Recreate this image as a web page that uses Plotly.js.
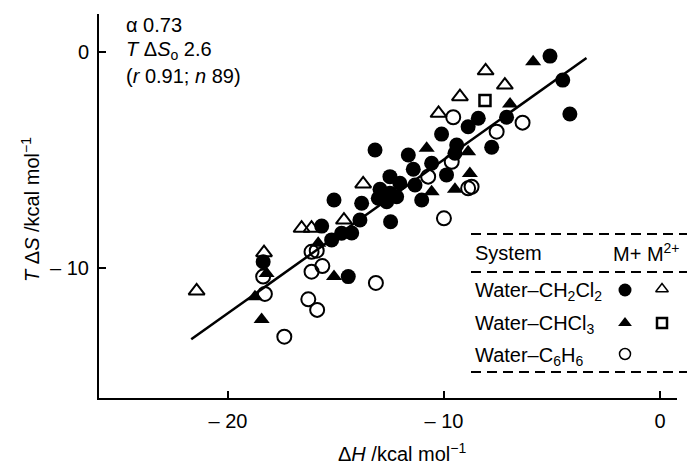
<!DOCTYPE html>
<html>
<head>
<meta charset="utf-8">
<script src="https://cdn.plot.ly/plotly-3.0.1.min.js"></script>
<style>html,body{margin:0;padding:0;background:#fff;}#chart{width:687px;height:465px;}</style>
</head>
<body>
<div id="chart"></div>
<script>
// Water–CH2Cl2, M+ (filled circles)
const ch2cl2MpX = [-5.09,-4.50,-4.17,-13.19,-10.11,-8.88,-8.41,-7.10,-7.79,-11.65,-9.41,-9.49,-10.57,-11.42,-9.88,-12.50,-12.04,-11.34,-12.96,-12.50,-12.19,-13.04,-11.03,-13.81,-12.65,-13.89,-12.47,-15.09,-15.66,-15.20,-14.74,-14.27,-18.37,-14.43];
const ch2cl2MpY = [-0.19,-1.30,-2.87,-4.54,-3.80,-3.46,-3.07,-3.02,-4.41,-4.77,-4.31,-4.69,-5.15,-5.43,-5.69,-5.77,-6.08,-6.16,-6.36,-6.54,-6.70,-6.77,-6.85,-7.00,-6.93,-7.78,-7.86,-6.85,-8.06,-8.70,-8.39,-8.38,-9.71,-10.40];
// Water–CHCl3, M+ (filled triangles)
const chcl3MpX = [-5.87,-6.94,-10.80,-8.88,-8.80,-9.49,-10.57,-15.82,-18.21,-18.75,-18.44,-15.09];
const chcl3MpY = [-0.45,-2.41,-4.46,-4.62,-5.62,-6.36,-6.47,-8.86,-10.25,-11.33,-12.38,-10.40];
// Water–CH2Cl2, M2+ (open triangles)
const ch2cl2M2X = [-8.07,-7.18,-9.26,-10.25,-13.74,-14.63,-16.59,-16.13,-18.33,-21.45];
const ch2cl2M2Y = [-0.87,-1.53,-2.07,-2.84,-6.11,-7.78,-8.16,-8.16,-9.29,-11.06];
// Water–CHCl3, M2+ (open square)
const chcl3M2X = [-8.10];
const chcl3M2Y = [-2.25];
// Water–C6H6, M+ (open circles)
const c6h6MpX = [-9.57,-6.36,-7.56,-9.64,-10.73,-8.72,-8.88,-10.00,-18.37,-18.29,-17.39,-16.13,-15.89,-16.13,-15.63,-16.28,-15.87,-13.15];
const c6h6MpY = [-3.02,-3.27,-3.69,-5.08,-5.77,-6.24,-6.31,-7.70,-10.40,-11.20,-13.18,-9.25,-9.20,-10.17,-9.91,-11.45,-11.94,-10.69];
// regression line end points
const fitX = [-21.7, -3.4];
const fitY = [-13.3, -0.28];
// tick labels
const xTickVals = [-20, -10, 0];
const xTickText = ['\u2013 20', '\u2013 10', '0'];
const yTickVals = [-10, 0];
const yTickText = ['\u2013 10', '0'];

const FONT = 'Liberation Sans, Arial, Helvetica, sans-serif';
const W = 687, H = 465, L = 99, R = 677, T = 14, B = 398;
const px = x => (x - L) / (R - L);
const py = y => (B - y) / (B - T);

const traces = [
  {x: fitX, y: fitY, mode: 'lines', line: {color: '#000', width: 2.5}, hoverinfo: 'skip'},
  {x: c6h6MpX, y: c6h6MpY, mode: 'markers', marker: {symbol: 'circle-open', size: 14, color: '#000', line: {width: 2, color: '#000'}}},
  {x: ch2cl2M2X, y: ch2cl2M2Y, mode: 'markers', marker: {symbol: 'triangle-up-open', size: 14, color: '#000', line: {width: 2, color: '#000'}}},
  {x: chcl3M2X, y: chcl3M2Y, mode: 'markers', marker: {symbol: 'square-open', size: 11, color: '#000', line: {width: 2.5, color: '#000'}}},
  {x: ch2cl2MpX, y: ch2cl2MpY, mode: 'markers', marker: {symbol: 'circle', size: 15, color: '#000'}},
  {x: chcl3MpX, y: chcl3MpY, mode: 'markers', marker: {symbol: 'triangle-up', size: 14, color: '#000'}},
  // legend table symbols (pixel coordinate overlay axes)
  {x: [625], y: [290], xaxis: 'x2', yaxis: 'y2', mode: 'markers', cliponaxis: false, marker: {symbol: 'circle', size: 13, color: '#000'}},
  {x: [662], y: [289], xaxis: 'x2', yaxis: 'y2', mode: 'markers', cliponaxis: false, marker: {symbol: 'triangle-up-open', size: 11, color: '#000', line: {width: 1.5, color: '#000'}}},
  {x: [625], y: [323], xaxis: 'x2', yaxis: 'y2', mode: 'markers', cliponaxis: false, marker: {symbol: 'triangle-up', size: 12, color: '#000'}},
  {x: [662], y: [323], xaxis: 'x2', yaxis: 'y2', mode: 'markers', cliponaxis: false, marker: {symbol: 'square-open', size: 10, color: '#000', line: {width: 2.5, color: '#000'}}},
  {x: [625], y: [354], xaxis: 'x2', yaxis: 'y2', mode: 'markers', cliponaxis: false, marker: {symbol: 'circle-open', size: 11, color: '#000', line: {width: 1.5, color: '#000'}}}
];

const ann = (text, x, y, xa, ya, extra) => Object.assign({
  text: text, xref: 'paper', yref: 'paper', x: px(x), y: py(y),
  xanchor: xa, yanchor: ya, showarrow: false,
  font: {family: FONT, size: 20, color: '#000'}
}, extra || {});

const annotations = [
  ann('\u03b1 0.73', 124, 25, 'left', 'middle'),
  ann('<i>T</i> \u0394<i>S</i><sub>o</sub> 2.6', 124, 50, 'left', 'middle'),
  ann('(<i>r</i> 0.91; <i>n</i> 89)', 124, 76, 'left', 'middle'),
  ann('System', 473, 253, 'left', 'middle'),
  ann('M+ M<sup>2+</sup>', 611, 252, 'left', 'middle'),
  ann('Water\u2013CH<sub>2</sub>Cl<sub>2</sub>', 473, 291, 'left', 'middle'),
  ann('Water\u2013CHCl<sub>3</sub>', 473, 324, 'left', 'middle'),
  ann('Water\u2013C<sub>6</sub>H<sub>6</sub>', 473, 356, 'left', 'middle'),
  ann('\u0394<i>H</i> /kcal mol<sup>\u22121</sup>', 402, 452, 'center', 'middle'),
  ann('<i>T</i> \u0394<i>S</i> /kcal mol<sup>\u22121</sup>', 30, 210, 'center', 'middle', {textangle: -90})
];

const dash = y => ({type: 'line', xref: 'paper', yref: 'paper', x0: px(471), x1: px(690), y0: py(y), y1: py(y),
  line: {color: '#000', width: 1.8, dash: '10px,6px'}});
const shapes = [dash(234), dash(272), dash(372)];

const axisCommon = {
  showline: true, linecolor: '#000', linewidth: 2, mirror: false,
  ticks: 'inside', ticklen: 7, tickwidth: 2, tickcolor: '#000',
  showgrid: false, zeroline: false, tickmode: 'array',
  tickfont: {family: FONT, size: 20, color: '#000'}
};

const layout = {
  width: W, height: H,
  margin: {l: L, r: W - R, t: T, b: H - B, pad: 0},
  paper_bgcolor: '#fff', plot_bgcolor: '#fff',
  showlegend: false,
  xaxis: Object.assign({}, axisCommon, {range: [-25.97, 0.79], tickvals: xTickVals, ticktext: xTickText, ticklabelstandoff: 4}),
  yaxis: Object.assign({}, axisCommon, {range: [-16.02, 1.76], tickvals: yTickVals, ticktext: yTickText, ticklabelstandoff: 4}),
  xaxis2: {overlaying: 'x', range: [L, R], visible: false, fixedrange: true},
  yaxis2: {overlaying: 'y', range: [B, T], visible: false, fixedrange: true},
  annotations: annotations,
  shapes: shapes,
  font: {family: FONT, color: '#000'}
};

Plotly.newPlot('chart', traces, layout, {staticPlot: true, displayModeBar: false});
</script>
</body>
</html>
